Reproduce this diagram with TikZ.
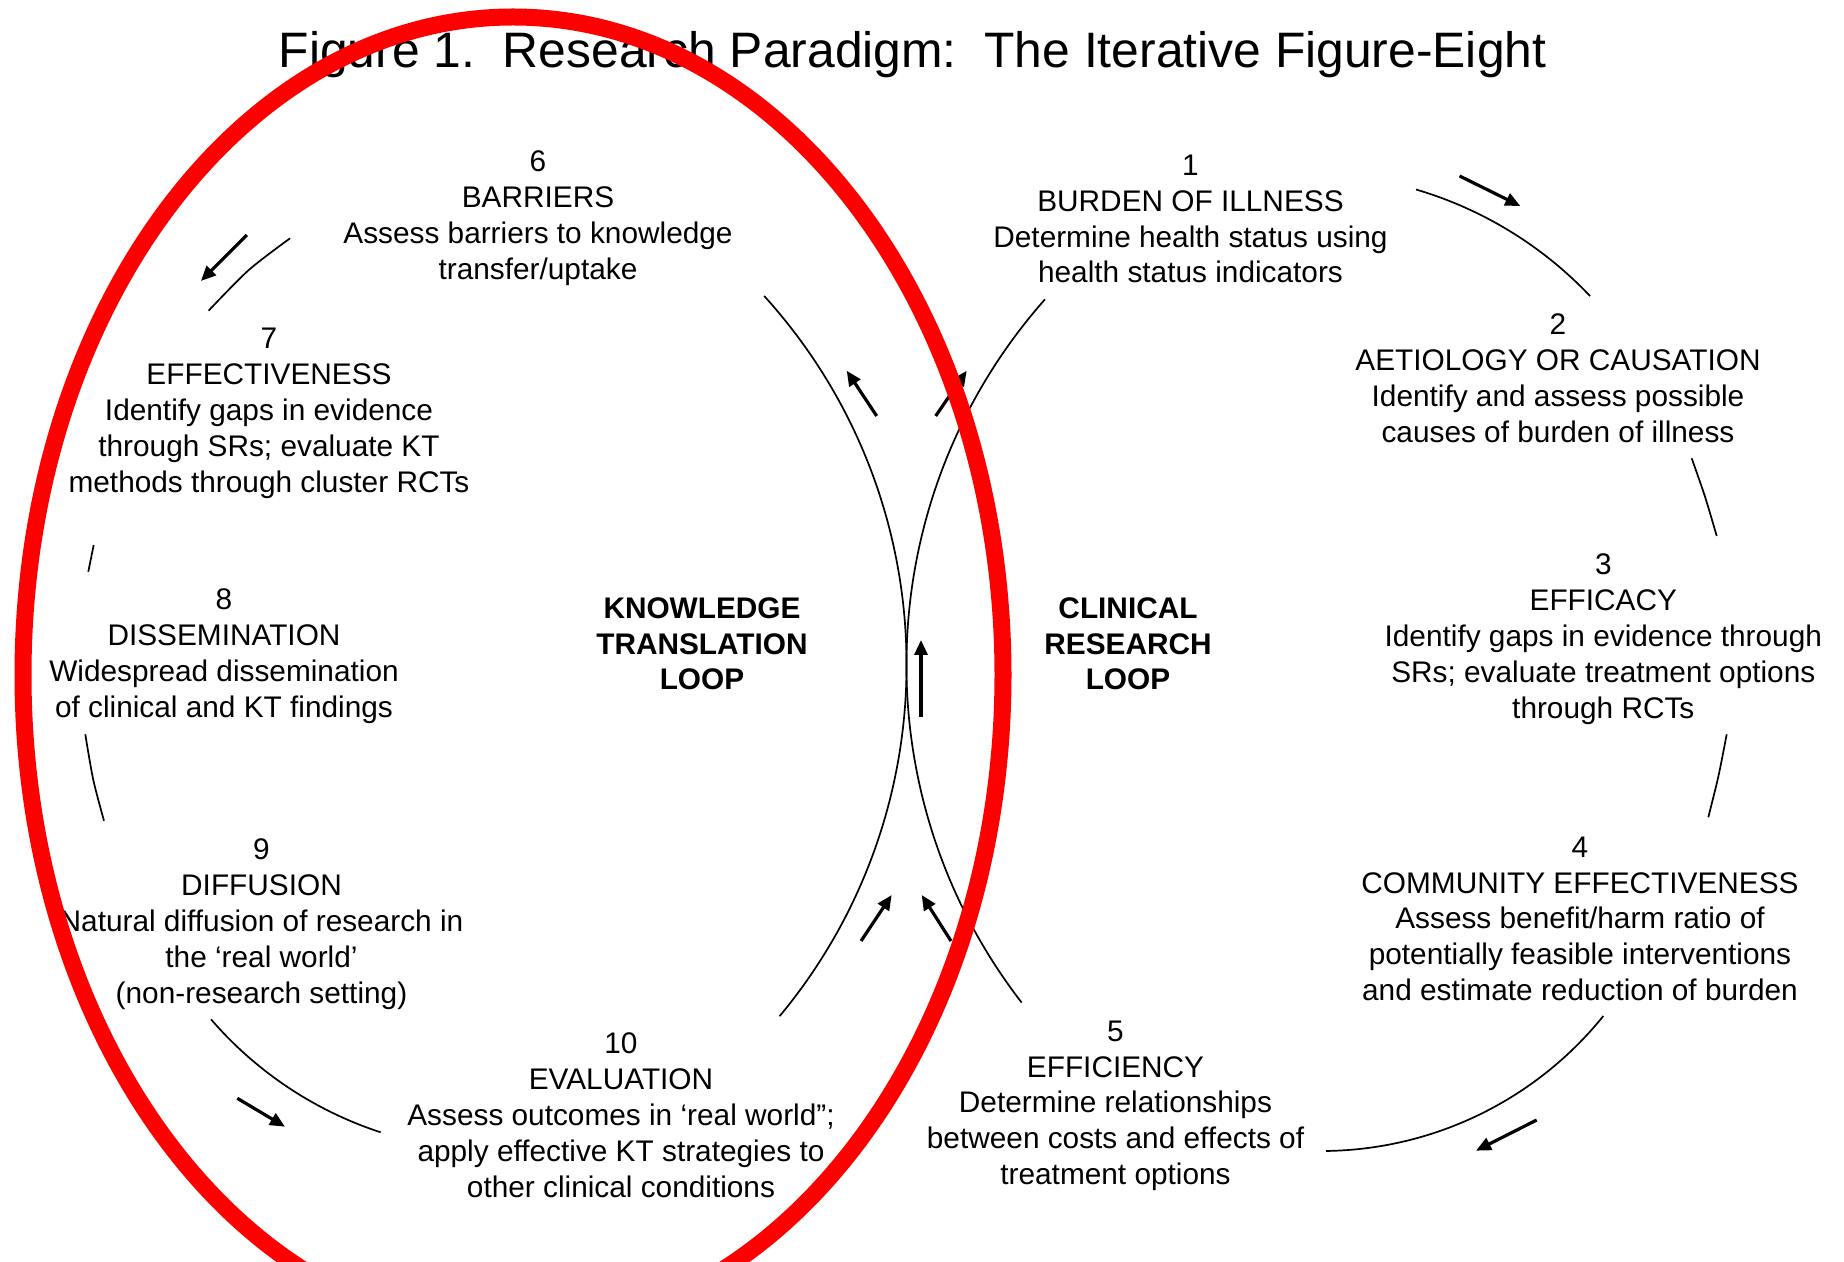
\documentclass[tikz,border=0pt]{standalone}
\usepackage{fontspec}
\setmainfont{Liberation Sans}
\usetikzlibrary{arrows.meta}
\frenchspacing
\begin{document}
\begin{tikzpicture}[x=0.5pt,y=-0.5pt,
  stage/.style={align=center, anchor=north, inner sep=0pt,
                font=\fontsize{14.9}{17.9}\selectfont},
  looplabel/.style={stage, font=\fontsize{14.9}{17.75}\selectfont\bfseries},
  heading/.style={anchor=base, inner sep=0pt, font=\fontsize{24.9}{30}\selectfont},
  loopline/.style={line width=0.85pt},
  flow/.style={line width=1.6pt, -{Triangle[length=7.5pt,width=6.5pt]}},
  highlight/.style={draw=red, line width=8.5pt}]
\useasboundingbox (0,0) rectangle (1844,1262);
\clip (0,0) rectangle (1844,1262);
\fill[white] (0,0) rectangle (1844,1262);

% title
\node[heading] (title) at (912.6,68) {Figure 1.\ \ Research Paradigm:\ \ The Iterative Figure-Eight};

% clinical research loop stages
\node[stage] (s1) at (1190.5,154.7) {1\\BURDEN OF ILLNESS\\Determine health status using\\health status indicators};
\node[stage] (s2) at (1558,313.7) {2\\AETIOLOGY OR CAUSATION\\Identify and assess possible\\causes of burden of illness};
\node[stage] (s3) at (1603.3,553.7) {3\\EFFICACY\\Identify gaps in evidence through\\SRs; evaluate treatment options\\through RCTs};
\node[stage] (s4) at (1580,836.4) {4\\COMMUNITY EFFECTIVENESS\\Assess benefit/harm ratio of\\potentially feasible interventions\\and estimate reduction of burden};
\node[stage] (s5) at (1115.5,1020.4) {5\\EFFICIENCY\\Determine relationships\\between costs and effects of\\treatment options};

% knowledge translation loop stages
\node[stage] (s6) at (538,150.7) {6\\BARRIERS\\Assess barriers to knowledge\\transfer/uptake};
\node[stage] (s7) at (269,328) {7\\EFFECTIVENESS\\Identify gaps in evidence\\through SRs; evaluate KT\\methods through cluster RCTs};
\node[stage] (s8) at (224,588.7) {8\\DISSEMINATION\\Widespread dissemination\\of clinical and KT findings};
\node[stage] (s9) at (261.5,838.7) {9\\DIFFUSION\\Natural diffusion of research in\\the ‘real world’\\(non-research setting)};
\node[stage] (s10) at (621,1032.7) {10\\EVALUATION\\Assess outcomes in ‘real world”;\\apply effective KT strategies to\\other clinical conditions};

% loop names
\node[looplabel] (ktloop) at (702,597.7) {KNOWLEDGE\\TRANSLATION\\LOOP};
\node[looplabel] (crloop) at (1128,597.7) {CLINICAL\\RESEARCH\\LOOP};

% right loop arcs
\draw[loopline] (1416,189.5) arc[start angle=-73.6, end angle=-43.46, radius=392.4];
\draw[loopline] plot[smooth] coordinates {(1691.7,458.3) (1705,496.7) (1716.7,536)};
\draw[loopline] plot[smooth] coordinates {(1726.7,734.3) (1718.3,776.7) (1708.3,817.3)};
\draw[loopline] (1603.3,1016) arc[start angle=38.86, end angle=89.23, radius=362.4];
\draw[loopline] (1045,299.3) arc[start angle=221.5, end angle=142.3, radius=552];

% left loop arcs
\draw[loopline] (764.2,296) arc[start angle=-42.2, end angle=39.75, radius=549.3];
\draw[loopline] plot[smooth] coordinates {(290.1,238.3) (248.8,270) (208.6,310.7)};
\draw[loopline] (93.7,545) -- (88.3,571.7);
\draw[loopline] plot[smooth] coordinates {(85.3,734.3) (93.3,780) (104,820.7)};
\draw[loopline] (211,1019.3) arc[start angle=139.24, end angle=108.08, radius=379.6];

% direction arrows
\draw[flow] (1459.6,176) -- (1520.3,206);
\draw[flow] (1536.7,1120) -- (1476,1150.7);
\draw[flow] (237.3,1098.3) -- (285,1126.7);
\draw[flow] (246.8,235) -- (200.9,281);
\draw[flow] (876.7,416) -- (846.7,370.7);
\draw[flow] (935.7,416) -- (966.7,370.7);
\draw[flow] (921,716.7) -- (921,640);
\draw[flow] (861,941) -- (891.7,895);
\draw[flow] (951,941) -- (921.7,895);

% red outline around the knowledge translation loop
\draw[highlight] (513,675) ellipse [x radius=490, y radius=658];
\end{tikzpicture}
\end{document}
